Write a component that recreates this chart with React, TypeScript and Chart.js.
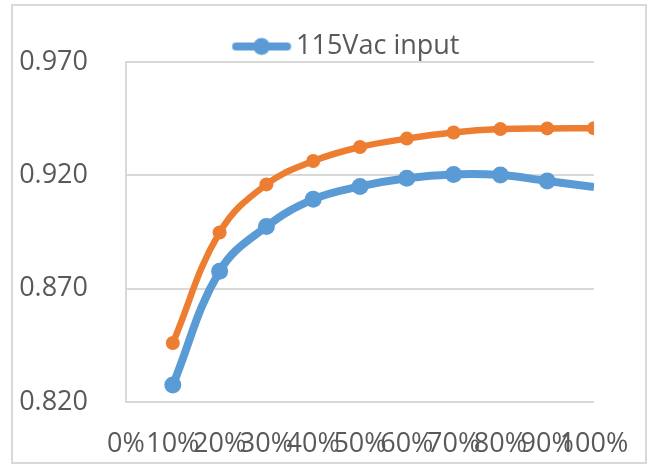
import React, { useEffect, useRef } from 'react';
import { Chart, registerables } from 'chart.js';

Chart.register(...registerables);

const loads = [10, 20, 30, 40, 50, 60, 70, 80, 90, 100];
const xTickLabels = ['0%', '10%', '20%', '30%', '40%', '50%', '60%', '70%', '80%', '90%', '100%'];
const blueName = '115Vac input';
const blueValues = [0.8275, 0.8777, 0.8974, 0.9094, 0.9151, 0.9187, 0.9204, 0.9201, 0.9175, 0.9148];
const orangeName = '230Vac input';
const orangeValues = [0.846, 0.8948, 0.916, 0.9263, 0.9325, 0.9362, 0.9389, 0.9404, 0.9407, 0.9408];
const yMin = 0.82;
const yMax = 0.97;
const yStep = 0.05;

const BLUE = '#5B9BD5';
const ORANGE = '#ED7D31';
const TEXT = '#595959';
const GRID = '#D9D9D9';
const FONT = "'Open Sans', sans-serif";
const FS = 27;

export default function App() {
  const ref = useRef<HTMLCanvasElement>(null);

  useEffect(() => {
    // legend symbol: line with a round marker
    const icon = document.createElement('canvas');
    icon.width = 80;
    icon.height = 20;
    const g = icon.getContext('2d')!;
    g.strokeStyle = BLUE;
    g.lineWidth = 8;
    g.lineCap = 'round';
    g.beginPath();
    g.moveTo(4.5, 10);
    g.lineTo(55.5, 10);
    g.stroke();
    g.fillStyle = BLUE;
    g.beginPath();
    g.arc(30, 10, 8.5, 0, Math.PI * 2);
    g.fill();

    const chart = new Chart(ref.current!, {
      type: 'line',
      data: {
        datasets: [
          {
            label: blueName,
            data: loads.map((x, i) => ({ x, y: blueValues[i] })),
            borderColor: BLUE,
            backgroundColor: BLUE,
            borderWidth: 8,
            pointRadius: loads.map((_, i) => (i === loads.length - 1 ? 0 : 8.5)),
            pointBorderWidth: 0,
            tension: 0.4,
          },
          {
            label: orangeName,
            data: loads.map((x, i) => ({ x, y: orangeValues[i] })),
            borderColor: ORANGE,
            backgroundColor: ORANGE,
            borderWidth: 6.5,
            pointRadius: 7,
            pointBorderWidth: 0,
            tension: 0.4,
          },
        ],
      },
      options: {
        responsive: false,
        animation: false,
        layout: { padding: { left: 0, right: 58, top: 29, bottom: 0 } },
        plugins: {
          tooltip: { enabled: false },
          legend: {
            display: true,
            position: 'top',
            align: 'center',
            fullSize: false,
            maxHeight: 33,
            labels: {
              filter: (item: any) => item.datasetIndex === 0,
              usePointStyle: true,
              pointStyle: icon as any,
              pointStyleWidth: 22,
              padding: 4,
              color: TEXT,
              font: { family: FONT, size: FS },
            },
          },
        },
        scales: {
          x: {
            type: 'linear',
            min: 0,
            max: 100,
            grid: { display: false, drawTicks: false },
            border: { display: false },
            ticks: {
              stepSize: 10,
              autoSkip: false,
              maxRotation: 0,
              minRotation: 0,
              padding: 26,
              color: TEXT,
              font: { family: FONT, size: FS },
              callback: (v: any) => xTickLabels[Math.round(Number(v) / 10)],
            },
            afterFit: (s: any) => {
              s.height = 63;
              s.paddingLeft = 0;
              s.paddingRight = 0;
            },
          },
          y: {
            type: 'linear',
            min: yMin,
            max: yMax,
            grid: { color: GRID, lineWidth: 2, drawTicks: false },
            border: { display: true, color: GRID, width: 2 },
            ticks: {
              stepSize: yStep,
              padding: 38,
              color: TEXT,
              font: { family: FONT, size: FS },
              callback: (v: any) => Number(v).toFixed(3),
            },
            afterFit: (s: any) => {
              s.width = 126;
            },
          },
        },
      },
    });
    return () => chart.destroy();
  }, []);

  return (
    <div style={{ position: 'absolute', left: 0, top: 0, width: 652, height: 465, background: '#fff' }}>
      <div
        style={{
          position: 'absolute',
          left: 11,
          top: 4,
          width: 636,
          height: 460,
          border: '2px solid ' + GRID,
          boxSizing: 'border-box',
        }}
      />
      <canvas ref={ref} width={652} height={465} style={{ position: 'absolute', left: 0, top: 0, display: 'block' }} />
    </div>
  );
}
